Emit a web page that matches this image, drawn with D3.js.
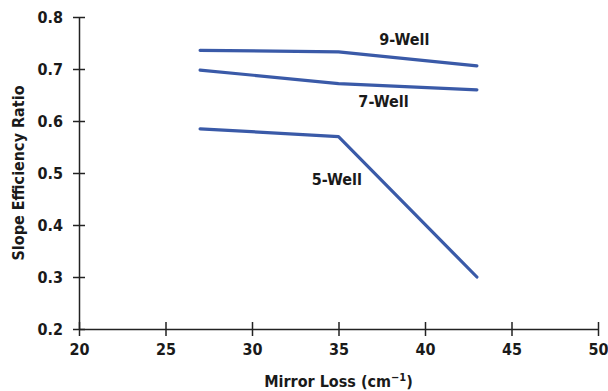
<!DOCTYPE html>
<html>
<head>
<meta charset="utf-8">
<script src="https://cdn.jsdelivr.net/npm/d3@7/dist/d3.min.js"></script>
<style>
  html, body { margin: 0; padding: 0; background: #fff; }
  svg text { font-family: "Liberation Sans Narrow", "Arial Narrow", "DejaVu Sans Condensed", sans-serif; font-weight: bold; fill: #1a1a1a; }
</style>
</head>
<body>
<svg id="chart" width="608" height="391"></svg>
<script>
// Mirror loss values (cm^-1) at which each structure was measured
const mirrorLoss = [27, 35, 43];
// Slope efficiency ratio for each quantum-well count
const well9 = [0.736, 0.733, 0.706];
const well7 = [0.698, 0.672, 0.660];
const well5 = [0.585, 0.570, 0.300];
const seriesNames = ["9-Well", "7-Well", "5-Well"];
const xTicks = [20, 25, 30, 35, 40, 45, 50];
const yTicks = [0.2, 0.3, 0.4, 0.5, 0.6, 0.7, 0.8];

const svg = d3.select("#chart");
const x = d3.scaleLinear().domain([20, 50]).range([79, 598]);
const y = d3.scaleLinear().domain([0.2, 0.8]).range([329, 17]);
const lineColor = "#3a5aa8";
const axisColor = "#222";
const fontSize = 16;

// Axes with ticks crossing the axis line
const yAxis = svg.append("g").attr("transform", `translate(${x(20)},0)`)
  .call(d3.axisLeft(y).tickValues(yTicks).tickFormat(d3.format(".1f")).tickSizeInner(6).tickSizeOuter(0).tickPadding(10));
yAxis.selectAll(".tick line").attr("x2", 6).attr("x1", -6);
const xAxis = svg.append("g").attr("transform", `translate(0,${y(0.2)})`)
  .call(d3.axisBottom(x).tickValues(xTicks).tickFormat(d3.format("d")).tickSizeInner(7).tickSizeOuter(0).tickPadding(8));
xAxis.selectAll(".tick line").attr("y1", -7).attr("y2", 7);
[yAxis, xAxis].forEach(g => {
  g.select(".domain").attr("stroke", axisColor).attr("stroke-width", 1.5);
  g.selectAll(".tick line").attr("stroke", axisColor).attr("stroke-width", 1.5);
  g.selectAll(".tick text").attr("font-size", fontSize).attr("fill", "#1a1a1a")
    .style("font-family", "'Liberation Sans Narrow', 'DejaVu Sans Condensed', sans-serif").style("font-weight", "bold");
});
yAxis.selectAll(".tick text").attr("dy", "0.35em");

// Series lines
const line = d3.line().x((d, i) => x(mirrorLoss[i])).y(d => y(d));
[well9, well7, well5].forEach(vals => {
  svg.append("path").datum(vals).attr("d", line)
    .attr("fill", "none").attr("stroke", lineColor).attr("stroke-width", 3.2)
    .attr("stroke-linejoin", "round").attr("stroke-linecap", "round");
});

// Series labels
const labelPos = [
  { name: seriesNames[0], xv: 38.8, yv: 0.746 },
  { name: seriesNames[1], xv: 37.6, yv: 0.626 },
  { name: seriesNames[2], xv: 34.9, yv: 0.476 }
];
svg.selectAll("text.series").data(labelPos).enter().append("text")
  .attr("class", "series").attr("x", d => x(d.xv)).attr("y", d => y(d.yv))
  .attr("text-anchor", "middle").attr("font-size", fontSize).text(d => d.name);

// Axis titles
const xTitle = svg.append("text").attr("x", x(35)).attr("y", 387).attr("text-anchor", "middle").attr("font-size", fontSize);
xTitle.append("tspan").text("Mirror Loss (cm");
xTitle.append("tspan").text("\u22121").attr("dy", -6).attr("font-size", 11);
xTitle.append("tspan").text(")").attr("dy", 6);
svg.append("text").attr("transform", `translate(24,${y(0.5)}) rotate(-90)`)
  .attr("text-anchor", "middle").attr("font-size", fontSize).text("Slope Efficiency Ratio");
</script>
</body>
</html>
